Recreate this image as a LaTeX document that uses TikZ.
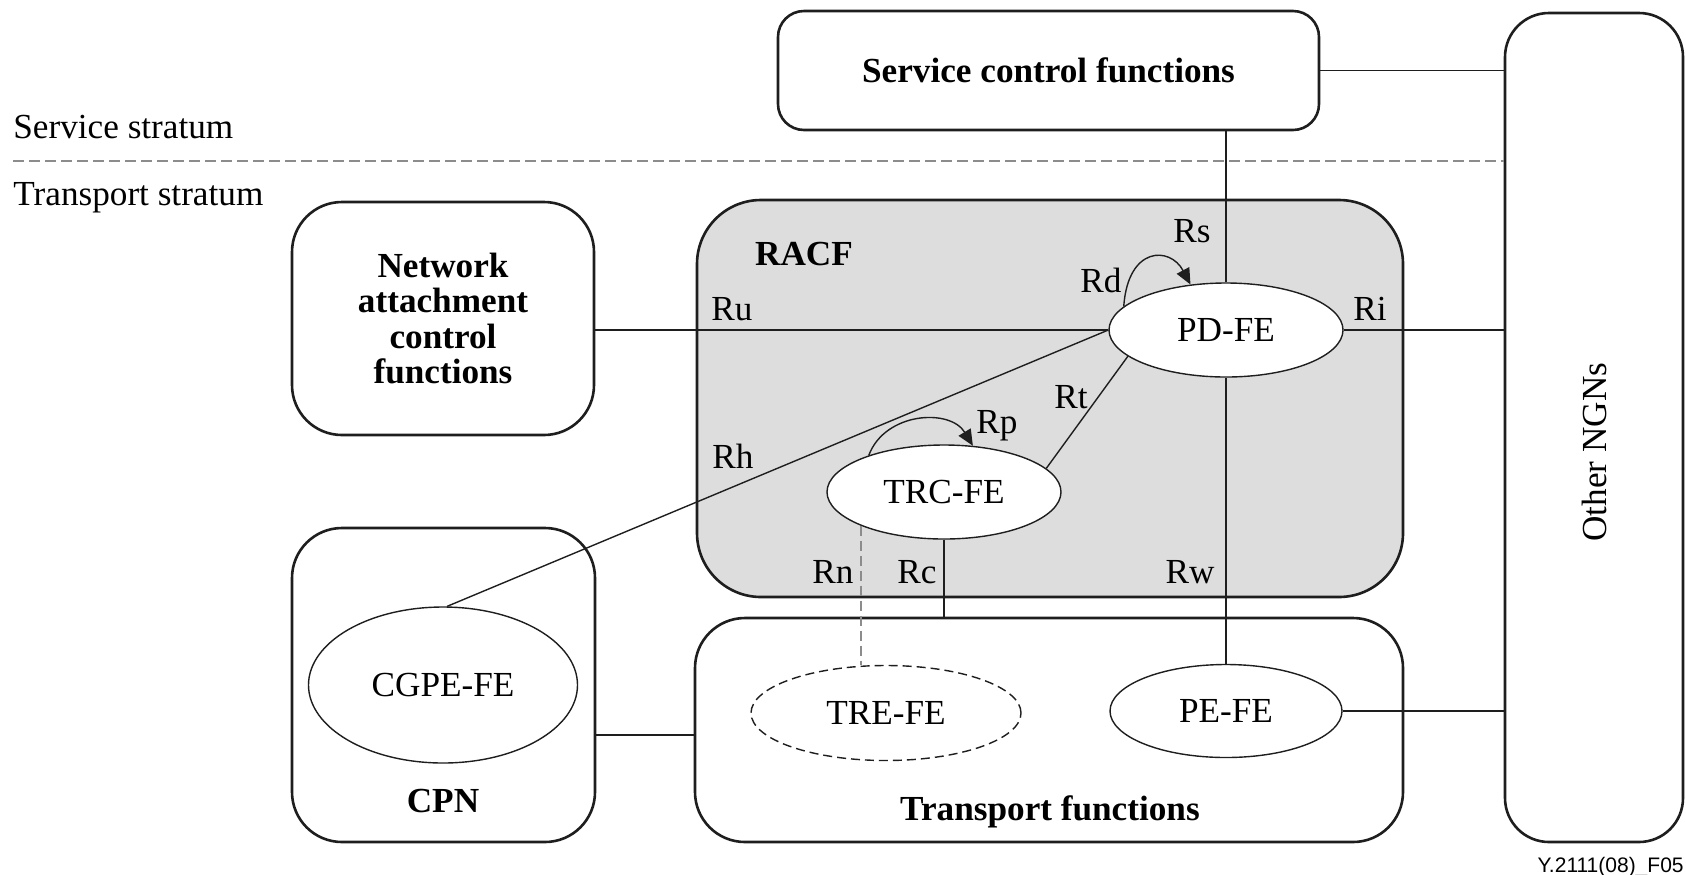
\documentclass[tikz,border=0pt]{standalone}
\usepackage{fontspec}
\setmainfont{Liberation Serif}
\newfontfamily\figsans{Liberation Sans}
\usetikzlibrary{shapes.geometric,arrows.meta}
\definecolor{racfgray}{RGB}{221,221,221}
\definecolor{linec}{RGB}{30,30,30}
\definecolor{dashc}{RGB}{140,140,140}
\begin{document}
\begin{tikzpicture}[x=0.5pt,y=-0.5pt,
  font=\fontsize{17.6}{17.8}\selectfont,
  box/.style={draw=linec, line width=1.3pt, rounded corners=25pt, inner sep=0pt, align=center},
  titletext/.style={font=\fontsize{17.6}{17.8}\selectfont\bfseries},
  fe/.style={ellipse, draw=linec, line width=0.7pt, fill=white, inner sep=0pt},
  conn/.style={draw=linec, line width=0.7pt},
  lbl/.style={inner sep=0pt, anchor=base},
  loopar/.style={conn, -{Triangle[length=8pt,width=7pt]}},
  graydash/.style={draw=dashc, line width=0.9pt, dash pattern=on 5pt off 2.5pt}
]
\useasboundingbox (0,0) rectangle (1686,874);

% boxes
\node[box, fill=racfgray, rounded corners=32pt, minimum width=353pt, minimum height=198.5pt] (racf) at (1050,398.5) {};
\node[box, titletext, rounded corners=13pt, minimum width=270.5pt, minimum height=59.5pt] (scf) at (1048.5,70.5) {Service control functions};
\node[box, titletext, minimum width=151pt, minimum height=116.5pt] (nacf) at (443,318.5) {Network\\attachment\\control\\functions};
\node[box, minimum width=151.5pt, minimum height=157pt] (cpn) at (443.5,685) {};
\node[box, minimum width=354pt, minimum height=112pt] (tf) at (1049,730) {};
\node[box, rounded corners=22pt, minimum width=89pt, minimum height=414.5pt] (ngn) at (1594,427.5) {};

% stratum labels and separator
\node[inner sep=0pt, anchor=base west] (sst) at (13,138) {Service stratum};
\node[inner sep=0pt, anchor=base west] (tst) at (13,205) {Transport stratum};
\coordinate (sl) at (13,161);
\draw[graydash, dash pattern=on 5.5pt off 2.5pt] (sl) -- (sl -| ngn.west);

% box titles
\node[lbl, titletext] (racft) at (804,265) {RACF};
\node[lbl, titletext] (cpnt) at (443,812) {CPN};
\node[lbl, titletext] (tft) at (1050,820) {Transport functions};
\node[inner sep=0pt, rotate=90] (ngnt) at (1594,452) {Other NGNs};

% functional entities
\node[fe, minimum width=117pt, minimum height=47pt] (pd) at (1226,330) {PD-FE};
\node[fe, minimum width=117pt, minimum height=47pt] (trc) at (944,492) {TRC-FE};
\node[fe, minimum width=134.5pt, minimum height=78pt] (cgpe) at (443,685) {CGPE-FE};
\node[fe, dashed, dash pattern=on 4.5pt off 2.5pt, minimum width=135pt, minimum height=47.5pt] (tre) at (886,713) {TRE-FE};
\node[fe, minimum width=116pt, minimum height=46.5pt] (pe) at (1226,711) {PE-FE};

% connectors
\draw[conn] (scf.east) -- (scf.east -| ngn.west);
\draw[conn] (pd.north) -- (pd.north |- scf.south);
\draw[conn] (pd.west) -- (pd.west -| nacf.east);
\draw[conn] (pd.east) -- (pd.east -| ngn.west);
\draw[conn] (pd.west) -- (cgpe.87);
\draw[conn] (pd.195) -- (trc.13);
\draw[conn] (pd.south) -- (pe.north);
\draw[conn] (pe.east) -- (pe.east -| ngn.west);
\draw[conn] (trc.south) -- (trc.south |- tf.north);
\draw[graydash] (trc.202) -- (trc.202 |- tre.north);
\draw[conn] ([yshift=-25pt]cpn.east) -- ([yshift=-25pt]cpn.east -| tf.west);

% loops
\draw[loopar] (pd.167) .. controls (1128,246) and (1170,246) .. (pd.128);
\draw[loopar] (trc.154) .. controls (885,412) and (950,408) .. (trc.58);

% reference point labels
\node[lbl] (rs) at (1192,242) {Rs};
\node[lbl] (rd) at (1101,292) {Rd};
\node[lbl] (ru) at (732,320) {Ru};
\node[lbl] (ri) at (1370,320) {Ri};
\node[lbl] (rt) at (1071,408) {Rt};
\node[lbl] (rp) at (997,433) {Rp};
\node[lbl] (rh) at (733,468) {Rh};
\node[lbl] (rn) at (833,583) {Rn};
\node[lbl] (rc) at (917,583) {Rc};
\node[lbl] (rw) at (1190,583) {Rw};

% figure tag
\node[inner sep=0pt, anchor=base east, font=\figsans\fontsize{10.5}{10.5}\selectfont] (tag) at (1684,872) {Y.2111(08)\_F05};
\end{tikzpicture}
\end{document}
